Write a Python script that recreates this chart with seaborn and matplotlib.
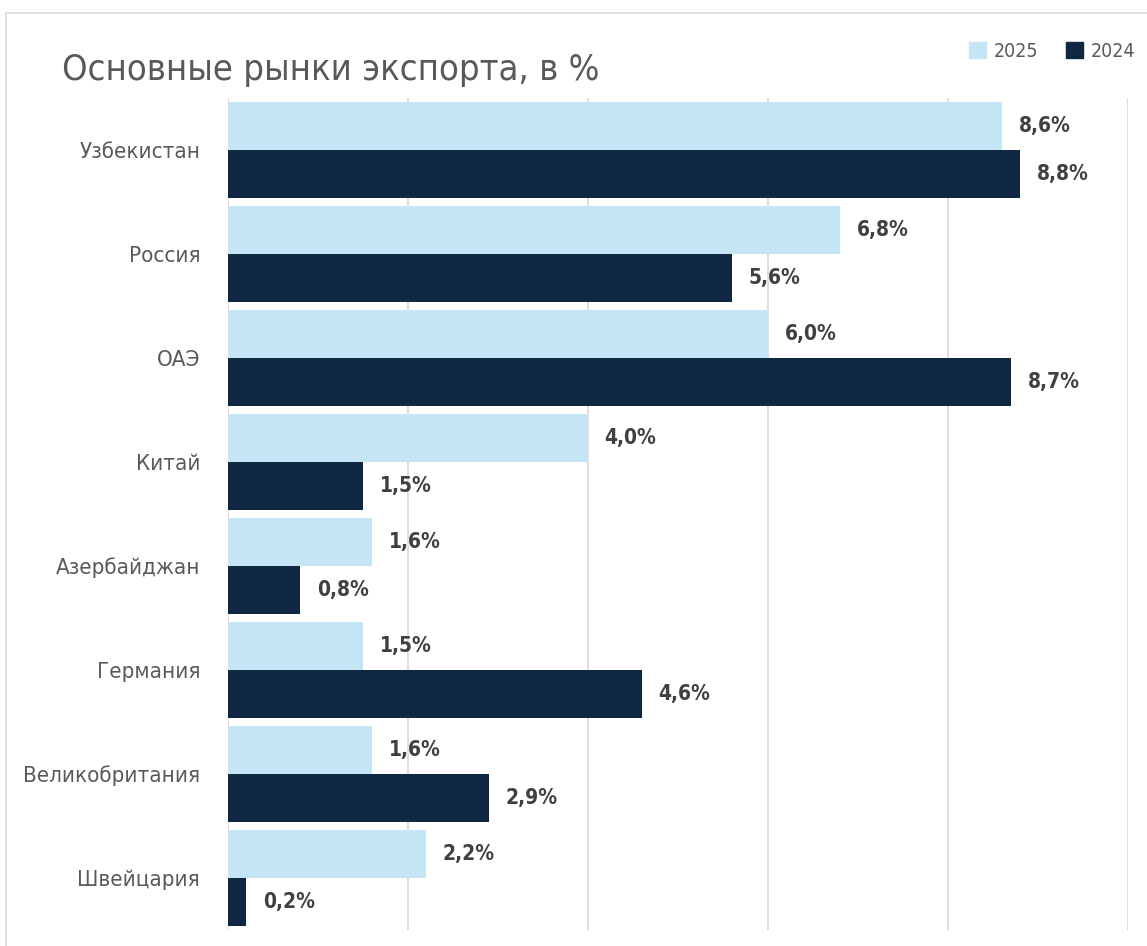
import matplotlib
matplotlib.use("Agg")
import matplotlib.pyplot as plt
import seaborn as sns
import pandas as pd
from matplotlib.patches import Rectangle

countries = ["Узбекистан", "Россия", "ОАЭ", "Китай", "Азербайджан",
             "Германия", "Великобритания", "Швейцария"]
years = ["2025", "2024"]
values_2025 = [8.6, 6.8, 6.0, 4.0, 1.6, 1.5, 1.6, 2.2]
values_2024 = [8.8, 5.6, 8.7, 1.5, 0.8, 4.6, 2.9, 0.2]
x_ticks = [0, 2, 4, 6, 8, 10]
title = "Основные рынки экспорта, в %"

colors = {"2025": "#C4E5F4", "2024": "#0F2740"}

df = pd.DataFrame({
    "country": countries * 2,
    "year": ["2025"] * len(countries) + ["2024"] * len(countries),
    "value": values_2025 + values_2024,
})

sns.set_theme(style="white")
plt.rcParams["font.family"] = ["DejaVu Sans"]
plt.rcParams["font.stretch"] = "condensed"

W, H = 1147, 946
fig = plt.figure(figsize=(W / 100, H / 100), dpi=100)
ax = fig.add_axes([228 / W, (H - 930) / H, 900 / W, 832 / H])

sns.barplot(data=df, y="country", x="value", hue="year", order=countries,
            hue_order=years, palette=colors, orient="h", width=0.92,
            gap=0, dodge=True, ax=ax, legend=False, saturation=1,
            edgecolor="none", linewidth=0)

ax.set_xlim(0, 10)
ax.set_ylim(len(countries) - 0.5, -0.5)
ax.set_xticks(x_ticks)
ax.set_xticklabels([])
ax.tick_params(axis="x", length=0)
ax.tick_params(axis="y", length=0, pad=20)
ax.grid(axis="x", color="#D9D9D9", linewidth=1.2)
ax.grid(axis="y", visible=False)
ax.set_axisbelow(True)
for s in ax.spines.values():
    s.set_visible(False)
ax.set_xlabel("")
ax.set_ylabel("")
for lab in ax.get_yticklabels():
    lab.set_fontsize(16)
    lab.set_color("#595959")
    lab.set_fontstretch("condensed")

for container in ax.containers:
    ax.bar_label(container, labels=[f"{v:.1f}%".replace(".", ",") for v in container.datavalues],
                 padding=12, fontsize=15, color="#404040", fontweight="bold",
                 fontstretch="condensed")

fig.text(62 / W, (H - 80) / H, title, fontsize=26, color="#595959",
         fontweight="normal", fontstretch="condensed", ha="left", va="baseline")

# legend
handles = [Rectangle((0, 0), 1, 1, color=colors[y]) for y in years]
fig.legend(handles, years, loc="upper right", bbox_to_anchor=(1.0, (H - 30) / H),
           ncol=2, frameon=False, labelcolor="#595959",
           handlelength=0.9, handleheight=0.9, handletextpad=0.4,
           columnspacing=1.4, borderaxespad=0.2,
           prop={"size": 14, "stretch": "condensed"})

# frame border
fig.patches.append(Rectangle((6 / W, -0.05), 1.2, (H - 13) / H + 0.05,
                             transform=fig.transFigure, fill=False,
                             edgecolor="#D9D9D9", linewidth=1.2))

fig.savefig("out.png", dpi=100, facecolor="white")
